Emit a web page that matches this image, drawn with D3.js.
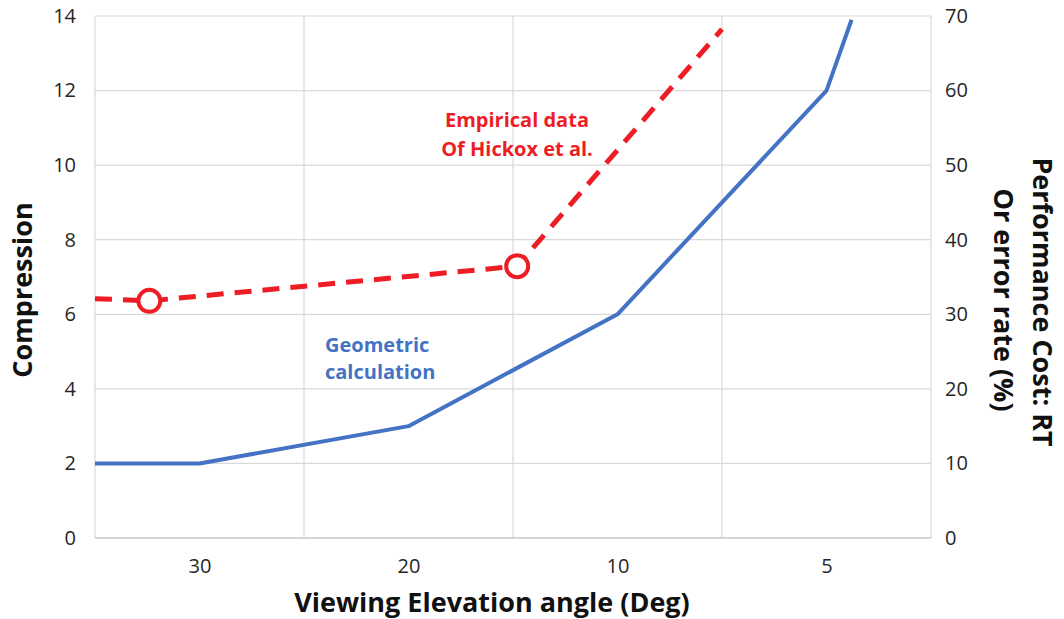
<!DOCTYPE html>
<html>
<head>
<meta charset="utf-8">
<style>
  body { margin: 0; background: #fff; }
  text { font-family: "Open Sans", sans-serif; }
</style>
</head>
<body>
<svg id="chart" width="1064" height="619"></svg>

<script src="https://d3js.org/d3.v7.min.js"></script>
<script>

    // category slots on the x axis (slot 0 = "30" deg)
    let categories = ["30", "20", "10", "5"]
    let leftTicks = [0, 2, 4, 6, 8, 10, 12, 14]
    let rightTicks = [0, 10, 20, 30, 40, 50, 60, 70]

    // geometric calculation (blue), x in category slots
    let geoX = [-0.5, 0, 1, 2, 3, 3.12]
    let geoY = [2, 2, 3, 6, 12, 13.9]

    // empirical data of Hickox et al. (red dashed)
    let empX = [-0.5, -0.24, 1.52, 2.5]
    let empY = [6.42, 6.36, 7.29, 13.65]
    let empMarked = [1, 2]

    let svg = d3.select("#chart")
    let plotLeft = 95, plotRight = 931, plotTop = 16, plotBottom = 538

    let x = d3.scaleLinear().domain([-0.5, 3.5]).range([plotLeft, plotRight])
    let y = d3.scaleLinear().domain([0, 14]).range([plotBottom, plotTop])
    let yR = d3.scaleLinear().domain([0, 70]).range([plotBottom, plotTop])

    // gridlines
    svg.append("g").selectAll("line")
        .data(leftTicks.slice(1))
        .enter().append("line")
        .attr("x1", plotLeft).attr("x2", plotRight)
        .attr("y1", d => y(d)).attr("y2", d => y(d))
        .attr("stroke", "#d9d9d9").attr("stroke-width", 1.2)

    svg.append("g").selectAll("line")
        .data([-0.5, 0.5, 1.5, 2.5, 3.5])
        .enter().append("line")
        .attr("x1", d => x(d)).attr("x2", d => x(d))
        .attr("y1", plotTop).attr("y2", plotBottom)
        .attr("stroke", "#d9d9d9").attr("stroke-width", 1.2)

    svg.append("line")
        .attr("x1", plotLeft).attr("x2", plotRight)
        .attr("y1", plotBottom).attr("y2", plotBottom)
        .attr("stroke", "#c8c8c8").attr("stroke-width", 1.5)

    // axes
    let leftAxis = svg.append("g")
        .attr("transform", `translate(${plotLeft},0)`)
        .call(d3.axisLeft(y).tickValues(leftTicks).tickSize(0).tickPadding(19))
    let rightAxis = svg.append("g")
        .attr("transform", `translate(${plotRight},0)`)
        .call(d3.axisRight(yR).tickValues(rightTicks).tickSize(0).tickPadding(14))
    let bottomAxis = svg.append("g")
        .attr("transform", `translate(0,${plotBottom})`)
        .call(d3.axisBottom(x).tickValues([0, 1, 2, 3]).tickFormat(i => categories[i]).tickSize(0).tickPadding(21))

    for (let a of [leftAxis, rightAxis, bottomAxis]) {
        a.select(".domain").remove()
        a.selectAll("text").attr("font-size", 20).attr("fill", "#262626")
            .style("font-family", "'Open Sans', sans-serif")
    }

    // clip to plot area
    svg.append("clipPath").attr("id", "plot")
        .append("rect").attr("x", plotLeft).attr("y", plotTop - 1)
        .attr("width", plotRight - plotLeft).attr("height", plotBottom - plotTop + 1)

    let line = d3.line().x(d => x(d[0])).y(d => y(d[1]))

    svg.append("path")
        .attr("clip-path", "url(#plot)")
        .attr("d", line(d3.zip(geoX, geoY)))
        .attr("fill", "none")
        .attr("stroke", "#4472c4")
        .attr("stroke-width", 4)
        .attr("stroke-linejoin", "round")

    svg.append("path")
        .attr("clip-path", "url(#plot)")
        .attr("d", line(d3.zip(empX, empY)))
        .attr("fill", "none")
        .attr("stroke", "#ee1c25")
        .attr("stroke-width", 5)
        .attr("stroke-dasharray", "17,11")

    svg.append("g").selectAll("circle")
        .data(empMarked)
        .enter().append("circle")
        .attr("cx", i => x(empX[i]))
        .attr("cy", i => y(empY[i]))
        .attr("r", 11)
        .attr("fill", "#fff")
        .attr("stroke", "#ee1c25")
        .attr("stroke-width", 4)

    // annotations
    let note = svg.append("g").attr("font-weight", "bold").attr("font-size", 20)
    note.append("text").attr("x", 517).attr("y", 127).attr("text-anchor", "middle")
        .attr("fill", "#ee1c25").text("Empirical data")
    note.append("text").attr("x", 517).attr("y", 156).attr("text-anchor", "middle")
        .attr("fill", "#ee1c25").text("Of Hickox et al.")
    note.append("text").attr("x", 325).attr("y", 352).attr("fill", "#4472c4").text("Geometric")
    note.append("text").attr("x", 325).attr("y", 379).attr("fill", "#4472c4").text("calculation")

    // axis titles
    let titles = svg.append("g").attr("font-weight", "bold").attr("font-size", 27).attr("fill", "#111")
    titles.append("text").attr("x", 492).attr("y", 612).attr("text-anchor", "middle")
        .text("Viewing Elevation angle (Deg)")
    titles.append("text").attr("transform", "translate(32,290) rotate(-90)")
        .attr("text-anchor", "middle").text("Compression")
    titles.append("text").attr("transform", "translate(1033,302) rotate(90)")
        .attr("text-anchor", "middle").text("Performance Cost: RT")
    titles.append("text").attr("transform", "translate(994,300) rotate(90)")
        .attr("text-anchor", "middle").text("Or error rate (%)")

</script>
</body>
</html>
